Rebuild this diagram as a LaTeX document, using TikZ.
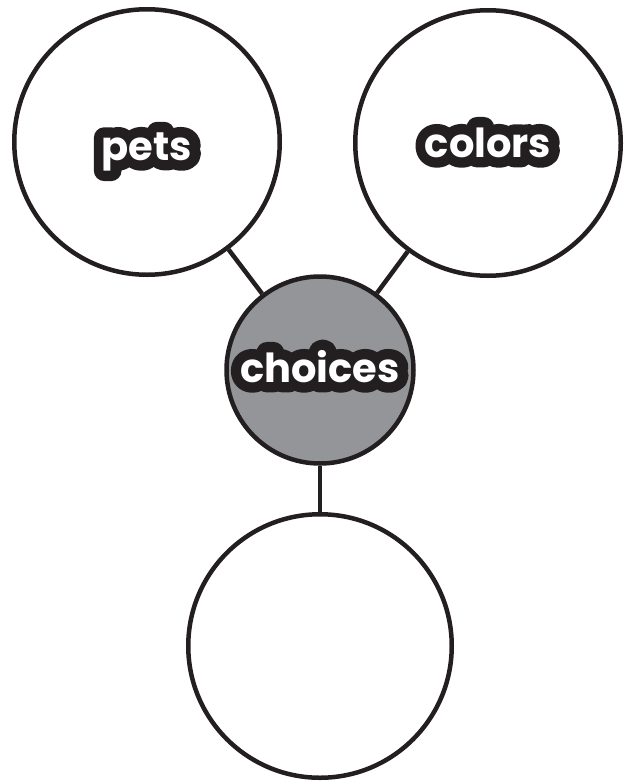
\documentclass[tikz,border=0pt]{standalone}
\usepackage{fontspec}
\setmainfont{Poppins}
\newfontface\outlineface{Poppins Bold}[FakeBold=52]
\usepackage{xcolor}
\usetikzlibrary{positioning}
\definecolor{ink}{RGB}{35,31,32}
\definecolor{hub}{RGB}{147,149,152}
\newcommand{\bubbletext}[1]{\rlap{\outlineface\textcolor{ink}{#1}}\textcolor{white}{#1}}

\begin{document}
\begin{tikzpicture}[
  x=1pt, y=-1pt,
  every node/.style={font=\fontsize{40}{40}\selectfont\bfseries},
  bubble/.style={circle, draw=ink, line width=4.5pt, fill=white, minimum size=265.5pt, inner sep=0pt, line join=round, text depth=0pt},
  centre/.style={bubble, fill=hub, minimum size=187pt},
  link/.style={draw=ink, line width=4.5pt}
]
\useasboundingbox (0,0) rectangle (626,782);
\node[centre, text height=24pt] (choices) at (320,370) {\bubbletext{choices}};
\node[bubble, text height=36pt] (pets) at (147,142) {\bubbletext{pets}};
\node[bubble, text height=28pt] (colors) at (488,143) {\bubbletext{colors}};
\node[bubble, minimum size=263.5pt] (blank) at (320,646) {};
\draw[link] (choices) -- (pets);
\draw[link] (choices) -- (colors);
\draw[link] (choices) -- (blank);
\end{tikzpicture}
\end{document}
